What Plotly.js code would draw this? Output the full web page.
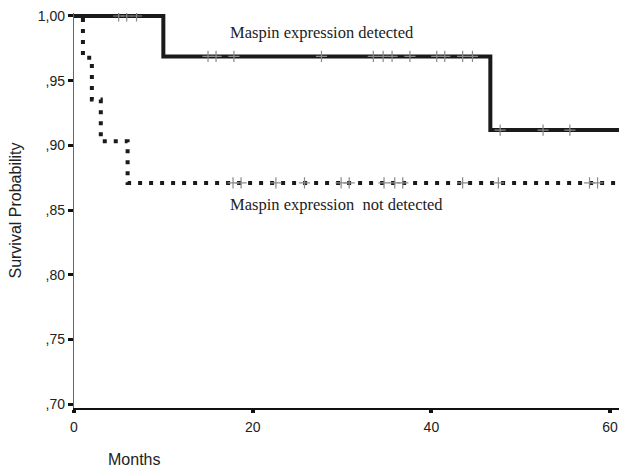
<!DOCTYPE html>
<html>
<head>
<meta charset="utf-8">
<script src="https://cdn.plot.ly/plotly-3.0.1.min.js"></script>
<style>html,body{margin:0;padding:0;background:#fff;}#chart{width:619px;height:467px;}</style>
</head>
<body>
<div id="chart"></div>
<script>
// Kaplan-Meier step data (months, survival probability)
const detectedTimes = [0, 10, 46.6, 61];
const detectedSurv = [1.0, 0.96875, 0.9118, 0.9118];
const notDetectedTimes = [0, 1, 2, 3, 6, 61];
const notDetectedSurv = [1.0, 0.9677, 0.9355, 0.9032, 0.871, 0.871];

// censored observations
const detectedCensorTimes = [5, 5.9, 7, 15, 15.9, 17.9, 27.7, 33.5, 34.6, 35.6, 37.6, 40.6, 41.5, 43.5, 44.6, 47.7, 52.5, 55.5];
const detectedCensorSurv = [1, 1, 1, 0.96875, 0.96875, 0.96875, 0.96875, 0.96875, 0.96875, 0.96875, 0.96875, 0.96875, 0.96875, 0.96875, 0.96875, 0.9118, 0.9118, 0.9118];
const notDetectedCensorTimes = [17.8, 18.7, 22.6, 25.8, 29.9, 30.8, 34.7, 35.9, 36.8, 43.5, 47.5, 57.7, 58.6];
const notDetectedCensorSurv = [0.871, 0.871, 0.871, 0.871, 0.871, 0.871, 0.871, 0.871, 0.871, 0.871, 0.871, 0.871, 0.871];

const yTickVals = [0.70, 0.75, 0.80, 0.85, 0.90, 0.95, 1.00];
const yTickText = [',70', ',75', ',80', ',85', ',90', ',95', '1,00'];
const xTickVals = [0, 20, 40, 60];
const xTickText = ['0', '20', '40', '60'];

const labelDetected = 'Maspin expression detected';
const labelNotDetected = 'Maspin expression  not detected';
const xTitle = 'Months';
const yTitle = 'Survival Probability';

const traces = [
  {x: notDetectedTimes, y: notDetectedSurv, mode: 'lines', line: {shape: 'hv', color: '#1a1a1a', width: 4, dash: '4px,7px'}, hoverinfo: 'skip'},
  {x: detectedTimes, y: detectedSurv, mode: 'lines', line: {shape: 'hv', color: '#1a1a1a', width: 4}, hoverinfo: 'skip'},
  {x: detectedCensorTimes, y: detectedCensorSurv, mode: 'markers', marker: {symbol: 'cross-thin', size: 8, line: {color: '#8a8a8a', width: 1.2}}},
  {x: notDetectedCensorTimes, y: notDetectedCensorSurv, mode: 'markers', marker: {symbol: 'cross-thin', size: 8, line: {color: '#8a8a8a', width: 1.2}}}
];

const layout = {
  width: 619, height: 467,
  margin: {l: 74, r: 0, t: 13, b: 59},
  paper_bgcolor: '#fff', plot_bgcolor: '#fff',
  showlegend: false,
  font: {family: 'Liberation Sans, Arial, sans-serif', size: 14, color: '#222'},
  xaxis: {
    range: [0, 61], tickvals: xTickVals, ticktext: xTickText,
    showgrid: false, zeroline: false, showline: true, linecolor: '#111', linewidth: 1.5,
    ticks: 'outside', ticklen: 3, tickwidth: 4, tickcolor: '#111',
    ticklabelstandoff: 3,
    tickfont: {size: 14, color: '#222'}
  },
  yaxis: {
    range: [0.697, 1.0023], tickvals: yTickVals, ticktext: yTickText,
    showgrid: false, zeroline: false, showline: true, linecolor: '#666', linewidth: 1.2,
    ticks: 'outside', ticklen: 5, tickwidth: 3, tickcolor: '#111',
    tickfont: {size: 14, color: '#222'},
    title: {text: yTitle, font: {size: 16, color: '#222'}, standoff: 12}
  },
  annotations: [
    {x: 27.8, y: 0.987, xref: 'x', yref: 'y', text: labelDetected, showarrow: false, font: {family: 'Liberation Serif, Times New Roman, serif', size: 16.5, color: '#222'}},
    {x: 29.4, y: 0.854, xref: 'x', yref: 'y', text: labelNotDetected, showarrow: false, font: {family: 'Liberation Serif, Times New Roman, serif', size: 16.5, color: '#222'}},
    {x: 0, y: 0, xref: 'paper', yref: 'paper', xanchor: 'center', yanchor: 'middle', text: xTitle, showarrow: false, font: {size: 16, color: '#222'}}
  ]
};
// place x title by pixel: convert to paper coords
layout.annotations[2].x = (134 - 74) / (619 - 74);
layout.annotations[2].y = (467 - 59 - 459) / (467 - 13 - 59);

Plotly.newPlot('chart', traces, layout, {displayModeBar: false, staticPlot: true});
</script>
</body>
</html>
